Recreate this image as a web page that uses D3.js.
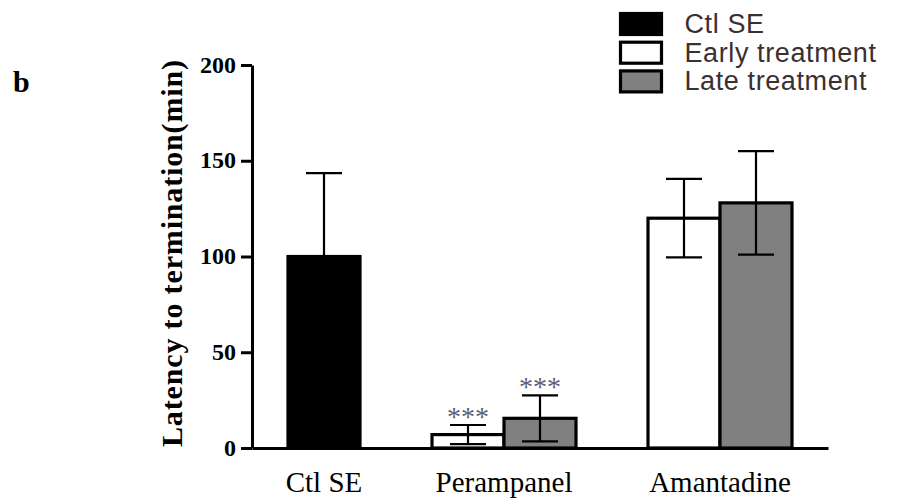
<!DOCTYPE html>
<html>
<head>
<meta charset="utf-8">
<script src="https://cdn.jsdelivr.net/npm/d3@7"></script>
<style>
  html, body { margin: 0; padding: 0; background: #fff; }
  svg { display: block; }
</style>
</head>
<body>
<svg id="chart" width="899" height="499"></svg>
<script>
// Latency to termination of status epilepticus, mean ± SEM (min)
const categories = ["Ctl SE", "Perampanel", "Amantadine"];
const seriesNames = ["Ctl SE", "Early treatment", "Late treatment"];
const ctlMean   = [100, null, null];
const ctlSem    = [43.5, null, null];
const earlyMean = [null, 7, 120];
const earlySem  = [null, 5, 20.5];
const lateMean  = [null, 15.5, 128];
const lateSem   = [null, 12, 27];
const sigEarly  = [null, "***", null];
const sigLate   = [null, "***", null];
const yTicks    = [0, 50, 100, 150, 200];

const seriesFill = ["#000000", "#ffffff", "#808080"];

const svg = d3.select("#chart");
const serif = "'Liberation Serif', 'Times New Roman', serif";
const sans = "'Liberation Sans', Arial, sans-serif";

// Build one record per bar, grouped by category
const means = [ctlMean, earlyMean, lateMean];
const sems = [ctlSem, earlySem, lateSem];
const sigs = [null, sigEarly, sigLate];
const groups = categories.map((c, ci) => {
  const bars = [];
  seriesNames.forEach((s, si) => {
    if (means[si][ci] != null) {
      bars.push({ category: c, series: si, mean: means[si][ci], sem: sems[si][ci],
                  sig: sigs[si] ? sigs[si][ci] : null });
    }
  });
  return { category: c, bars };
});

// Slot layout: half-slot margins, one-slot gaps between groups, one slot per bar
let cursor = 0.5;
groups.forEach((g, i) => {
  if (i > 0) cursor += 1;
  g.start = cursor;
  g.bars.forEach((b, j) => { b.slot = cursor + j; });
  cursor += g.bars.length;
  g.end = cursor;
});
const totalSlots = cursor + 0.5;

const x = d3.scaleLinear().domain([0, totalSlots]).range([252, 828]);
const y = d3.scaleLinear().domain([0, 200]).range([448, 65]);
const slotW = x(1) - x(0);

const allBars = groups.flatMap(g => g.bars);

// Bars
svg.append("g").selectAll("rect")
  .data(allBars)
  .join("rect")
  .attr("x", d => x(d.slot))
  .attr("width", slotW)
  .attr("y", d => y(d.mean))
  .attr("height", d => y(0) - y(d.mean))
  .attr("fill", d => seriesFill[d.series])
  .attr("stroke", "#000")
  .attr("stroke-width", 3.2);

// Error bars
const capW = slotW / 2;
const eb = svg.append("g").attr("stroke", "#000").attr("stroke-width", 2.2).attr("fill", "none");
allBars.forEach(d => {
  const cx = x(d.slot + 0.5);
  const yHi = y(d.mean + d.sem), yLo = y(Math.max(0, d.mean - d.sem));
  eb.append("line").attr("x1", cx).attr("x2", cx).attr("y1", yHi).attr("y2", yLo);
  eb.append("line").attr("x1", cx - capW / 2).attr("x2", cx + capW / 2).attr("y1", yHi).attr("y2", yHi);
  eb.append("line").attr("x1", cx - capW / 2).attr("x2", cx + capW / 2).attr("y1", yLo).attr("y2", yLo);
});

// Significance markers
svg.append("g").selectAll("text")
  .data(allBars.filter(d => d.sig))
  .join("text")
  .attr("x", d => x(d.slot + 0.5))
  .attr("y", d => y(d.mean + d.sem) + 1)
  .attr("text-anchor", "middle")
  .attr("font-family", serif)
  .attr("font-size", 28)
  .attr("fill", "#5e5e70")
  .text(d => d.sig);

// Y axis
const yAxis = svg.append("g")
  .attr("transform", `translate(${x(0)},0)`)
  .call(d3.axisLeft(y).tickValues(yTicks).tickSize(11).tickSizeOuter(0).tickPadding(5));
yAxis.select(".domain").attr("stroke", "#000").attr("stroke-width", 3);
yAxis.selectAll(".tick line").attr("stroke", "#000").attr("stroke-width", 3);
yAxis.selectAll(".tick text")
  .attr("font-family", serif)
  .attr("font-weight", "bold")
  .attr("font-size", 24)
  .attr("fill", "#000")
  .attr("dy", "0.30em");

// X axis baseline (no ticks)
const xAxis = svg.append("g")
  .attr("transform", `translate(0,${y(0)})`)
  .call(d3.axisBottom(x).tickValues([]).tickSizeOuter(0));
xAxis.select(".domain").attr("stroke", "#000").attr("stroke-width", 3);

// Category labels
svg.append("g").selectAll("text")
  .data(groups)
  .join("text")
  .attr("x", g => x((g.start + g.end) / 2))
  .attr("y", 492)
  .attr("text-anchor", "middle")
  .attr("font-family", serif)
  .attr("font-size", 29)
  .attr("fill", "#000")
  .text(g => g.category);

// Y axis title
svg.append("text")
  .attr("transform", "translate(182,253.5) rotate(-90)")
  .attr("text-anchor", "middle")
  .attr("font-family", serif)
  .attr("font-weight", "bold")
  .attr("font-size", 30)
  .attr("textLength", 387)
  .attr("lengthAdjust", "spacing")
  .attr("fill", "#000")
  .text("Latency to termination(min)");

// Panel letter
svg.append("text")
  .attr("x", 13).attr("y", 92)
  .attr("font-family", serif)
  .attr("font-weight", "bold")
  .attr("font-size", 30)
  .attr("fill", "#000")
  .text("b");

// Legend
const legend = svg.append("g").attr("transform", "translate(620.5,0)");
const legendRow = d3.scaleLinear().domain([0, 1]).range([24, 52.7]);
const lg = legend.selectAll("g")
  .data(seriesNames)
  .join("g")
  .attr("transform", (d, i) => `translate(0,${legendRow(i)})`);
lg.append("rect")
  .attr("x", 0).attr("y", -10.5)
  .attr("width", 41).attr("height", 21)
  .attr("fill", (d, i) => seriesFill[i])
  .attr("stroke", "#000")
  .attr("stroke-width", 3.2);
lg.append("text")
  .attr("x", 64).attr("y", 9)
  .attr("font-family", sans)
  .attr("font-size", 27)
  .attr("letter-spacing", 0.6)
  .attr("fill", "#3a3030")
  .text(d => d);
</script>
</body>
</html>
